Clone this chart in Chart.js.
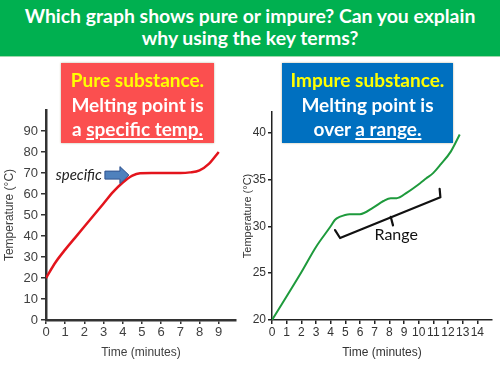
<!DOCTYPE html>
<html>
<head>
<meta charset="utf-8">
<script src="https://cdn.jsdelivr.net/npm/chart.js@4.4.1/dist/chart.umd.min.js"></script>
<style>
body { margin: 0; width: 500px; height: 375px; overflow: hidden; background: #fff; position: relative; font-family: Lato, sans-serif; }
#banner { position: absolute; left: 0; top: 0; width: 500px; height: 57px; background: #00b050; border-bottom: 1px solid #9ed9ab;
  color: #fff; font-weight: bold; font-size: 19.4px; line-height: 22px; text-align: center; padding-top: 5px; box-sizing: border-box; z-index: 3; }
.box { position: absolute; top: 63px; height: 80px; color: #fff; font-weight: bold; font-size: 19px; line-height: 24.5px;
  text-align: center; box-sizing: border-box; padding-top: 5px; z-index: 2; box-shadow: 0 0 2px #b9b39a; }
#pureBox { left: 61px; width: 153px; background: #fb4f4f; }
#impureBox { left: 282px; width: 171px; background: #0070c0; }
.yel { color: #ffff00; }
u { text-decoration-thickness: 2px; text-underline-offset: 2px; }
#pureWrap { position: absolute; left: 0; top: 60px; width: 238px; height: 310px; }
#impureWrap { position: absolute; left: 238px; top: 60px; width: 262px; height: 310px; }
</style>
</head>
<body>
<div id="banner">Which graph shows pure or impure? Can you explain<br>why using the key terms?</div>
<div id="pureBox" class="box"><span class="yel">Pure substance.</span><br>Melting point is<br>a <u>specific temp.</u></div>
<div id="impureBox" class="box"><span class="yel">Impure substance.</span><br>Melting point is<br>over <u>a range.</u></div>
<div id="pureWrap"><canvas id="pureChart"></canvas></div>
<div id="impureWrap"><canvas id="impureChart"></canvas></div>
<script>
// Pure substance heating curve (minutes, °C)
const pureTime = [0, 0.5, 1, 1.5, 2, 2.5, 3, 3.5, 4, 4.5, 4.9, 5.5, 6, 6.5, 7, 7.5, 8, 8.5, 9];
const pureTemp = [20, 27.5, 33.5, 39, 44.5, 50, 55.5, 61, 65.5, 68.8, 69.9, 70, 70, 70, 70, 70.3, 71.3, 74.5, 80];

// Impure substance heating curve
const impureTime = [0, 2, 3, 4, 4.3, 4.6, 5.3, 6, 6.9, 7.6, 8.1, 8.5, 9.2, 10.1, 10.5, 11, 11.5, 12.2, 12.8];
const impureTemp = [20, 25.1, 27.8, 30, 30.7, 31, 31.3, 31.3, 32, 32.7, 33, 33, 33.6, 34.6, 35.1, 35.7, 36.6, 38, 39.8];

// annotations, in data units
const arrowFrom = 3.07, arrowTo = 4.32, arrowTemp = 69;
const bracketTime = [4.3, 4.64, 11.48, 11.43];
const bracketTemp = [29.6, 28.75, 33.1, 34.0];
const notchTime = [8.1, 8.25], notchTemp = [31.0, 30.1];
const rangeLabel = { t: 8.47, temp: 29.1 };

const pts = (xs, ys) => xs.map((x, i) => ({ x: x, y: ys[i] }));

function axis(opts) {
    return {
        type: 'linear',
        min: opts.min, max: opts.max,
        afterBuildTicks: s => { s.ticks = s.ticks.filter(t => t.value <= opts.last); },
        afterFit: s => { if (opts.w) s.width = opts.w; if (opts.h) s.height = opts.h; },
        ticks: { stepSize: opts.step, includeBounds: false, autoSkip: false, maxRotation: 0, padding: opts.pad, color: opts.color,
                 font: { family: opts.font, size: opts.size } },
        grid: { drawOnChartArea: false, tickLength: opts.tick, color: opts.line, lineWidth: 1.5 },
        border: { color: opts.line, width: opts.bw },
        title: { display: true, text: opts.title, color: opts.color, padding: opts.tpad,
                 font: { family: opts.font, size: opts.tsize } }
    };
}

const arrowPlugin = {
    id: 'specificArrow',
    afterDatasetsDraw(chart) {
        const c = chart.ctx, xs = chart.scales.x, ys = chart.scales.y;
        const x0 = xs.getPixelForValue(arrowFrom), x1 = xs.getPixelForValue(arrowTo), y = ys.getPixelForValue(arrowTemp);
        const hx = x1 - 9;
        c.save();
        c.beginPath();
        c.moveTo(x0, y - 4); c.lineTo(hx, y - 4); c.lineTo(hx, y - 8.5); c.lineTo(x1, y);
        c.lineTo(hx, y + 8.5); c.lineTo(hx, y + 4); c.lineTo(x0, y + 4); c.closePath();
        c.fillStyle = '#4f81bd'; c.fill();
        c.strokeStyle = '#2f528f'; c.lineWidth = 1; c.stroke();
        c.font = 'italic 15px Lato, sans-serif';
        c.fillStyle = '#222'; c.textAlign = 'right'; c.textBaseline = 'middle';
        c.fillText('specific', x0 - 3, y);
        c.restore();
    }
};

const bracketPlugin = {
    id: 'rangeBracket',
    afterDatasetsDraw(chart) {
        const c = chart.ctx, xs = chart.scales.x, ys = chart.scales.y;
        c.save();
        c.strokeStyle = '#111'; c.lineWidth = 2.2; c.lineJoin = 'round'; c.lineCap = 'round';
        c.beginPath();
        bracketTime.forEach((t, i) => {
            const px = xs.getPixelForValue(t), py = ys.getPixelForValue(bracketTemp[i]);
            if (i === 0) c.moveTo(px, py); else c.lineTo(px, py);
        });
        c.stroke();
        c.beginPath();
        c.moveTo(xs.getPixelForValue(notchTime[0]), ys.getPixelForValue(notchTemp[0]));
        c.lineTo(xs.getPixelForValue(notchTime[1]), ys.getPixelForValue(notchTemp[1]));
        c.stroke();
        c.font = '16px Lato, sans-serif';
        c.fillStyle = '#111'; c.textAlign = 'center'; c.textBaseline = 'middle';
        c.fillText('Range', xs.getPixelForValue(rangeLabel.t), ys.getPixelForValue(rangeLabel.temp));
        c.restore();
    }
};

new Chart(document.getElementById('pureChart'), {
    type: 'line',
    data: { datasets: [{ data: pts(pureTime, pureTemp), borderColor: '#e3141c', borderWidth: 2.5,
        pointRadius: 0, cubicInterpolationMode: 'monotone', fill: false }] },
    options: {
        responsive: true, maintainAspectRatio: false, animation: false,
        layout: { padding: { top: 50, right: 2, left: 0, bottom: 0 } },
        plugins: { legend: { display: false }, tooltip: { enabled: false } },
        scales: {
            x: axis({ min: 0, max: 9.9, last: 9, step: 1, h: 50, pad: 1, tick: 4, size: 13, tsize: 12,
                      font: "'Liberation Sans', Arial, sans-serif", color: '#404040', line: '#333', bw: 2.5,
                      title: 'Time (minutes)', tpad: { top: 0, bottom: 10 } }),
            y: axis({ min: 0, max: 100, last: 90, step: 10, w: 46, pad: 3, tick: 5, size: 13, tsize: 12,
                      font: "'Liberation Sans', Arial, sans-serif", color: '#404040', line: '#333', bw: 2.5,
                      title: 'Temperature (°C)', tpad: { top: 2, bottom: 0 } })
        }
    },
    plugins: [arrowPlugin]
});

new Chart(document.getElementById('impureChart'), {
    type: 'line',
    data: { datasets: [{ data: pts(impureTime, impureTemp), borderColor: '#1e9a3c', borderWidth: 2,
        pointRadius: 0, cubicInterpolationMode: 'monotone', fill: false }] },
    options: {
        responsive: true, maintainAspectRatio: false, animation: false,
        layout: { padding: { top: 52, right: 8, left: 0, bottom: 0 } },
        plugins: { legend: { display: false }, tooltip: { enabled: false } },
        scales: {
            x: axis({ min: 0, max: 15, last: 14, step: 1, h: 50, pad: 1, tick: 4, size: 12, tsize: 12,
                      font: "'Liberation Sans Narrow', 'Liberation Sans', sans-serif", color: '#333', line: '#222', bw: 1.5,
                      title: 'Time (minutes)', tpad: { top: 0, bottom: 10 } }),
            y: axis({ min: 20, max: 42.2, last: 40, step: 5, w: 34, pad: 2, tick: 4, size: 12, tsize: 11,
                      font: "'Liberation Sans Narrow', 'Liberation Sans', sans-serif", color: '#333', line: '#222', bw: 1.5,
                      title: 'Temperature (°C)', tpad: { top: 3, bottom: 0 } })
        }
    },
    plugins: [bracketPlugin]
});
</script>
</body>
</html>
